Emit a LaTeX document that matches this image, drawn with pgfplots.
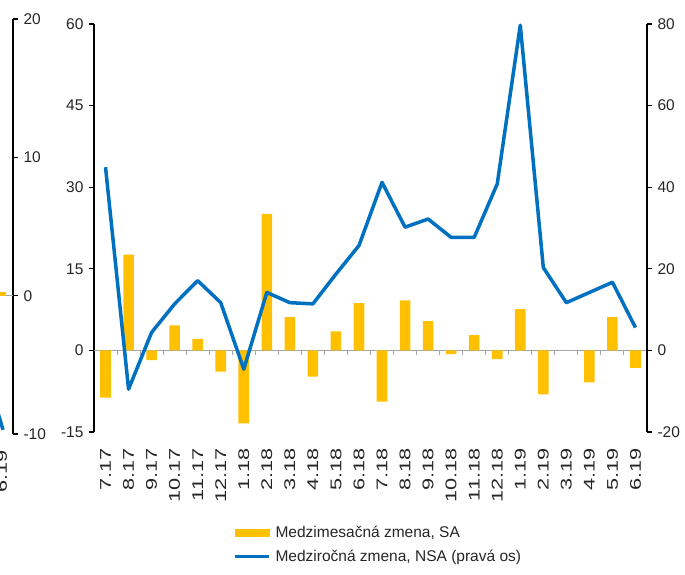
\documentclass[border=0pt]{standalone}
\usepackage{fontspec}
\setmainfont{Liberation Sans}
\usepackage{pgfplots}
\pgfplotsset{compat=1.18}
\definecolor{barcol}{HTML}{FFC000}
\definecolor{linecol}{HTML}{0070C0}
\definecolor{zerocol}{HTML}{A6A6A6}
\definecolor{txtcol}{HTML}{262626}
\newcommand{\chartfont}{\fontsize{15.5bp}{18bp}\selectfont}
\begin{document}
\begin{tikzpicture}
\path[use as bounding box,clip] (0bp,0bp) rectangle (685bp,575bp);
\pgfplotsset{
  common/.style={
    scale only axis,
    /pgf/number format/assume math mode=true,
    tick align=outside,
    major tick length=5bp,
    tick label style={text=txtcol,font=\chartfont},
    every y tick/.style={black,line width=1.3bp},
    y axis line style={black,line width=1.3bp},
  },
  xlab/.style={
    xticklabel style={yshift=-10bp,rotate=90,xscale=1.4,anchor=east,inner sep=1bp},
  }
}
% neighbouring chart (cut off at left)
\begin{axis}[common,xlab,
  at={(-20bp,141bp)},anchor=south west,
  width=33bp,height=415bp,
  xmin=-20,xmax=13,ymin=-10,ymax=20,
  axis y line*=right,
  axis x line*=bottom,
  x axis line style={draw=none},
  xtick style={draw=none},
  xtick={1.5},xticklabels={6.19},
  ytick={-10,0,10,20},
  yticklabel style={anchor=west,xshift=2bp},
  clip=false]
\draw[zerocol,line width=1.3bp] (axis cs:-20,0) -- (axis cs:13,0);
\addplot[ybar,bar width=10,bar shift=0,fill=barcol,draw=none] coordinates {(1.5,0.25)};
\addplot[linecol,line width=3.5bp] coordinates {(-7,-7.25) (3,-9.7)};
\end{axis}
% main chart: bars on the left axis
\begin{axis}[common,xlab,
  at={(94bp,143bp)},anchor=south west,
  width=553bp,height=408bp,
  xmin=-0.5,xmax=23.5,ymin=-15,ymax=60,
  axis y line*=left,
  axis x line*=bottom,
  x axis line style={draw=none},
  xtick style={draw=none},
  xtick={0,...,23},
  xticklabels={7.17,8.17,9.17,10.17,11.17,12.17,1.18,2.18,3.18,4.18,5.18,6.18,7.18,8.18,9.18,10.18,11.18,12.18,1.19,2.19,3.19,4.19,5.19,6.19},
  ytick={-15,0,15,30,45,60},
  yticklabel style={xshift=-2bp},
  clip=false]
\draw[zerocol,line width=1.5bp] (axis cs:-0.5,0) -- (axis cs:23.5,0);
\pgfplotsinvokeforeach{0.5,1.5,2.5,3.5,4.5,5.5,6.5,7.5,8.5,9.5,10.5,11.5,12.5,13.5,14.5,15.5,16.5,17.5,18.5,19.5,20.5,21.5,22.5}{
  \draw[zerocol,line width=1bp] (axis cs:#1,0) -- ++(0bp,-5bp);
}
\addplot[ybar,bar width=0.46,bar shift=0,fill=barcol,draw=none] coordinates {
(0,-8.7) (1,17.6) (2,-1.8) (3,4.6) (4,2.1) (5,-3.9) (6,-13.4) (7,25.1)
(8,6.1) (9,-4.8) (10,3.5) (11,8.7) (12,-9.4) (13,9.2) (14,5.4) (15,-0.7)
(16,2.8) (17,-1.6) (18,7.6) (19,-8.1) (21,-5.9) (22,6.1) (23,-3.2)};
\end{axis}
% main chart: line on the right axis
\begin{axis}[common,
  at={(94bp,143bp)},anchor=south west,
  width=553bp,height=408bp,
  xmin=-0.5,xmax=23.5,ymin=-20,ymax=80,
  axis y line*=right,
  axis x line=none,
  ytick={-20,0,20,40,60,80},
  yticklabel style={anchor=west,xshift=2bp},
  clip=false,
  legend style={at={(0.252,-0.225)},anchor=north west,draw=none,fill=none,
    row sep=7bp,text=txtcol,inner sep=0bp,font=\chartfont,
    nodes={inner sep=2bp},
    /tikz/every odd column/.style={column sep=3bp}},
  legend cell align=left]
\addlegendimage{legend image code/.code={\fill[barcol] (0bp,-3.5bp) rectangle (34bp,3.5bp);}}
\addlegendentry{Medzimesačná zmena, SA}
\addplot[linecol,line width=3.5bp,line join=round,
  legend image code/.code={\draw[linecol,line width=3bp] (0bp,0bp) -- (34bp,0bp);}] coordinates {
(0,44.9) (1,-9.5) (2,4.4) (3,11.4) (4,17.1) (5,11.7) (6,-4.6) (7,14.2)
(8,11.7) (9,11.4) (10,18.7) (11,25.7) (12,41.2) (13,30.2) (14,32.2) (15,27.7)
(16,27.7) (17,40.8) (18,79.7) (19,20.3) (20,11.7) (21,14.2) (22,16.7) (23,5.6)};
\addlegendentry{Medziročná zmena, NSA (pravá os)}
\end{axis}
\end{tikzpicture}
\end{document}
